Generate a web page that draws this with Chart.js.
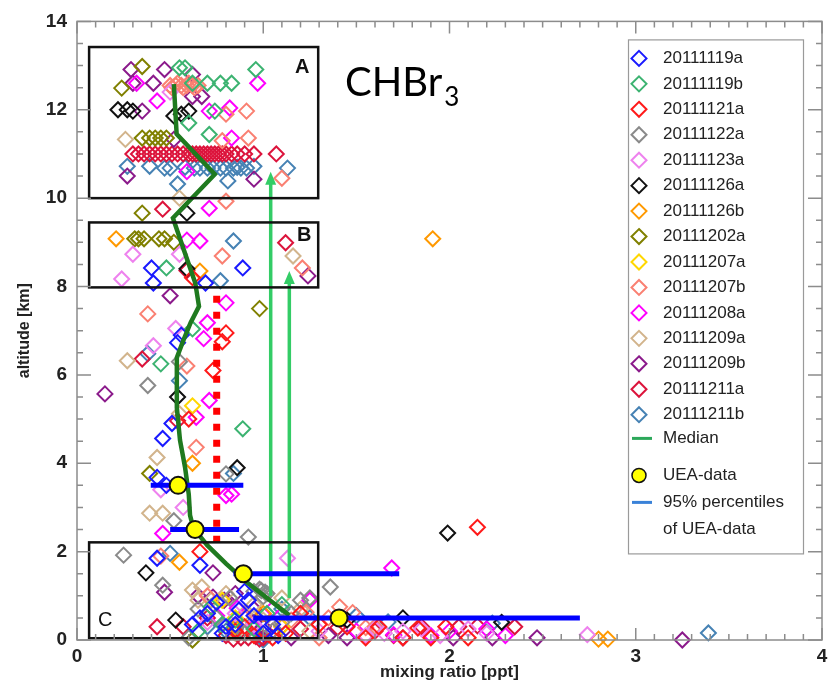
<!DOCTYPE html>
<html lang="en">

<head>
	<meta charset="UTF-8">
	<title>CHBr3 - perfiles</title>
	<script type="text/javascript" src="https://cdn.jsdelivr.net/npm/chart.js"></script>
	<style>
		* {
			margin: 0;
			padding: 0;
			box-sizing: border-box;
		}

		body {
			background: #fff;
		}

		#contenedor {
			width: 837px;
			height: 693px;
		}
	</style>
</head>

<body>
	<div id="contenedor">
		<canvas id="perfil"></canvas>
	</div>

	<script type="text/javascript">
		// vuelos: [mixing ratio (ppt), altitud (km)]
		const v20111119a = [[0.40, 8.42], [0.89, 8.42], [0.41, 8.08], [0.69, 8.08], [0.54, 6.73], [0.56, 6.9], [0.46, 4.56], [0.51, 4.9], [0.43, 3.68], [0.48, 3.5], [0.66, 1.69], [0.43, 1.85], [0.66, 0.5], [0.87, 0.68], [0.80, 0.3], [0.95, 0.55], [1.00, 0.15], [0.75, 0.85], [0.90, 1.1], [1.05, 0.35], [0.70, 0.6], [0.85, 0.35], [0.92, 0.9], [0.78, 0.15], [1.08, 0.1], [0.62, 0.35]];
		const v20111119b = [[0.55, 12.95], [0.58, 12.95], [0.96, 12.91], [0.70, 12.6], [0.77, 12.6], [0.83, 12.6], [0.62, 12.6], [0.74, 11.97], [0.71, 11.44], [0.60, 11.7], [0.48, 8.42], [0.62, 7.04], [0.45, 6.25], [0.89, 4.78], [0.72, 0.75], [0.85, 0.45], [0.65, 0.2], [1.02, 0.6], [0.78, 0.35], [0.95, 0.25], [1.10, 0.8]];
		const v20111121a = [[0.78, 6.75], [0.73, 6.1], [0.80, 6.95], [0.62, 8.2], [0.66, 2.0], [0.60, 5.0], [2.15, 2.55], [1.83, 0.27], [1.98, 0.3], [1.20, 0.6], [1.30, 0.35], [0.95, 0.1], [1.05, 0.05], [1.55, 0.05], [1.75, 0.05], [0.85, 0.2], [1.45, 0.3], [0.90, 0.3], [1.12, 0.15], [1.62, 0.3], [1.90, 0.05], [2.10, 0.05]];
		const v20111122a = [[0.38, 5.76], [0.55, 6.3], [0.80, 3.76], [0.52, 2.7], [0.25, 1.92], [0.92, 2.33], [0.46, 1.24], [0.98, 1.15], [1.02, 1.05], [1.00, 0.98], [0.95, 1.1], [0.99, 1.12], [1.01, 1.08], [1.36, 1.2], [1.20, 0.9], [0.65, 0.7], [0.90, 0.15], [1.10, 0.4], [0.60, 0.05], [0.75, 0.5], [1.15, 0.6], [1.25, 0.95], [0.82, 0.95], [1.05, 0.2]];
		const v20111123a = [[0.50, 12.4], [0.30, 8.73], [0.55, 8.73], [0.24, 8.17], [0.53, 7.05], [0.41, 6.66], [0.45, 3.4], [0.57, 3.0], [1.13, 1.85], [0.85, 0.6], [1.55, 0.1], [1.75, 0.2], [1.85, 0.25], [1.95, 0.1], [2.74, 0.12], [1.30, 0.2], [0.70, 0.4], [0.95, 0.35], [1.60, 0.25], [1.65, 0.15], [2.10, 0.25], [2.20, 0.15]];
		const v20111126a = [[0.22, 12.0], [0.27, 12.0], [0.30, 11.97], [0.52, 11.86], [0.56, 11.9], [0.60, 11.97], [0.59, 9.66], [0.59, 8.4], [0.54, 5.5], [0.86, 3.9], [0.37, 1.52], [0.53, 0.45], [1.99, 2.42], [1.75, 0.5], [2.28, 0.4], [1.45, 0.45]];
		const v20111126b = [[0.21, 9.08], [1.91, 9.08], [0.66, 8.35], [0.62, 4.0], [0.55, 1.76], [0.85, 0.3], [2.80, 0.02], [2.85, 0.02], [1.00, 0.6]];
		const v20111202a = [[0.35, 12.98], [0.24, 12.49], [0.35, 11.36], [0.39, 11.36], [0.42, 11.36], [0.45, 11.36], [0.48, 11.36], [0.35, 9.66], [0.31, 9.08], [0.33, 9.08], [0.36, 9.08], [0.44, 9.08], [0.47, 9.08], [0.52, 9.0], [0.98, 7.5], [0.39, 3.77], [0.62, 0.0]];
		const v20111207a = [[0.62, 5.3], [0.78, 0.9], [0.85, 0.5], [1.10, 0.3]];
		const v20111207b = [[0.50, 12.55], [0.51, 12.5], [0.53, 12.55], [0.54, 12.6], [0.56, 12.55], [0.57, 12.5], [0.59, 12.55], [0.60, 12.6], [0.62, 12.55], [0.63, 12.5], [0.65, 12.55], [0.80, 11.9], [0.91, 11.97], [0.78, 11.3], [0.92, 11.36], [1.10, 10.45], [0.80, 9.93], [0.78, 8.69], [1.21, 8.42], [0.38, 7.38], [0.59, 6.2], [0.64, 4.36], [0.45, 1.9], [1.41, 0.75], [1.23, 0.63], [1.05, 0.2], [1.60, 0.3], [0.70, 1.0], [0.90, 0.5], [1.15, 0.45], [1.30, 0.05], [1.55, 0.28], [1.35, 0.5], [1.48, 0.62]];
		const v20111208a = [[0.32, 12.6], [0.97, 12.6], [0.43, 12.2], [0.82, 12.04], [0.71, 11.97], [0.83, 11.36], [0.59, 10.6], [0.71, 9.77], [0.59, 9.05], [0.66, 9.03], [0.80, 7.63], [0.70, 7.18], [0.68, 6.82], [0.71, 5.42], [0.64, 5.04], [0.80, 3.27], [0.83, 3.3], [0.46, 2.41], [0.86, 0.72], [1.69, 1.63], [1.70, 0.12], [2.00, 0.2], [2.30, 0.1], [1.25, 0.9], [0.75, 0.55], [0.95, 0.3], [1.05, 0.7], [1.50, 0.2], [1.90, 0.1], [2.20, 0.25]];
		const v20111209a = [[0.26, 11.33], [0.55, 10.0], [1.16, 8.69], [0.27, 6.32], [0.55, 5.12], [0.43, 4.13], [0.39, 2.87], [0.46, 2.87], [0.62, 1.13], [0.67, 1.2], [0.72, 0.9], [0.95, 0.8], [1.20, 0.7], [0.85, 0.15], [1.00, 0.45], [0.65, 0.9], [0.80, 1.05], [1.10, 0.95], [0.90, 0.6], [1.25, 0.2]];
		const v20111209b = [[0.29, 12.91], [0.47, 12.91], [0.30, 12.6], [0.41, 12.6], [0.62, 12.8], [0.62, 12.3], [0.67, 12.3], [0.35, 11.97], [0.52, 11.33], [0.27, 10.5], [0.95, 10.43], [0.50, 7.79], [1.24, 8.24], [0.15, 5.57], [0.47, 1.08], [0.73, 1.52], [0.73, 0.97], [0.79, 0.9], [1.15, 0.05], [1.45, 0.05], [2.02, 0.05], [2.23, 0.05], [2.47, 0.05], [3.25, 0.0], [0.65, 1.0], [0.85, 1.05], [0.95, 0.7], [1.00, 0.3], [1.35, 0.1], [1.75, 0.05]];
		const v20111211a = [[0.30, 11.0], [0.33, 11.0], [0.36, 11.0], [0.39, 11.0], [0.42, 11.0], [0.45, 11.0], [0.48, 11.0], [0.51, 11.0], [0.54, 11.0], [0.57, 11.0], [0.60, 11.0], [0.62, 11.0], [0.64, 11.0], [0.66, 11.0], [0.68, 11.0], [0.70, 11.0], [0.72, 11.0], [0.74, 11.0], [0.76, 11.0], [0.78, 11.0], [0.80, 11.0], [0.83, 11.0], [0.86, 11.0], [0.90, 11.0], [0.95, 11.0], [1.07, 11.0], [0.46, 9.75], [1.12, 8.99], [0.59, 8.36], [0.35, 6.36], [0.54, 4.96], [0.43, 0.3], [0.57, 0.3], [0.88, 0.05], [0.92, 0.05], [0.96, 0.08], [1.00, 0.05], [1.85, 0.3], [2.15, 0.32], [2.35, 0.3], [1.70, 0.1], [0.70, 0.5], [0.80, 0.1], [0.84, 0.02], [0.90, 0.15], [0.98, 0.02], [1.03, 0.12], [1.10, 0.3], [1.20, 0.25], [1.40, 0.28], [1.60, 0.2], [2.05, 0.3]];
		const v20111211b = [[0.27, 10.72], [0.39, 10.72], [0.47, 10.68], [0.50, 10.68], [0.54, 10.32], [0.58, 10.7], [0.63, 10.68], [0.66, 10.68], [0.70, 10.68], [0.73, 10.68], [0.77, 10.68], [0.80, 10.68], [0.84, 10.68], [0.86, 10.7], [0.88, 10.68], [0.91, 10.68], [0.95, 10.72], [0.81, 10.39], [1.13, 10.68], [0.84, 9.03], [0.77, 8.13], [0.38, 6.48], [0.55, 5.87], [0.84, 3.77], [0.50, 1.96], [0.80, 0.2], [1.67, 0.41], [2.23, 0.38], [3.39, 0.16], [1.10, 0.7], [0.70, 0.3], [0.85, 0.25], [0.95, 0.4], [1.25, 0.5], [1.50, 0.55], [1.00, 0.0]];

		const vuelos = ['20111119a', '20111119b', '20111121a', '20111122a', '20111123a', '20111126a', '20111126b', '20111202a', '20111207a', '20111207b', '20111208a', '20111209a', '20111209b', '20111211a', '20111211b'];
		const datosVuelos = [v20111119a, v20111119b, v20111121a, v20111122a, v20111123a, v20111126a, v20111126b, v20111202a, v20111207a, v20111207b, v20111208a, v20111209a, v20111209b, v20111211a, v20111211b];
		const coloresVuelos = ['#1a1aff', '#3cb371', '#ff1a1a', '#8a8a8a', '#ee82ee', '#111111', '#ff9900', '#808000', '#ffd700', '#fa8072', '#ff00ff', '#d2b48c', '#8b1a8b', '#dc143c', '#4682b4'];

		// mediana de todos los vuelos
		const medianaX = [0.52, 0.535, 0.74, 0.515, 0.59, 0.635, 0.655, 0.61, 0.57, 0.536, 0.536, 0.553, 0.58, 0.60, 0.607, 0.625, 0.70, 0.80, 0.91, 1.02, 1.14];
		const medianaY = [12.58, 11.45, 10.54, 9.55, 8.63, 8.08, 7.55, 7.18, 6.77, 6.39, 5.26, 4.52, 3.91, 3.3, 2.82, 2.53, 2.14, 1.73, 1.31, 0.95, 0.56];

		// datos UEA y percentiles del 95 %
		const ueaAltitud = [3.5, 2.5, 1.5, 0.5];
		const ueaValor = [0.543, 0.634, 0.893, 1.407];
		const ueaMin = [0.396, 0.50, 0.84, 0.946];
		const ueaMax = [0.893, 0.87, 1.73, 2.70];

		// línea roja punteada
		const limiteX = 0.75;
		const limiteDesde = 2.2;
		const limiteHasta = 7.9;

		// flechas verdes
		const flechaX = [1.04, 1.14];
		const flechaDesde = [1.0, 0.95];
		const flechaHasta = [10.6, 8.35];

		// cajas A, B y C
		const cajas = [
			{ etiqueta: 'A', x0: 0.065, x1: 1.295, y0: 10.0, y1: 13.42 },
			{ etiqueta: 'B', x0: 0.065, x1: 1.295, y0: 7.98, y1: 9.45 },
			{ etiqueta: 'C', x0: 0.065, x1: 1.295, y0: 0.04, y1: 2.21 }
		];

		const fuenteEjes = "'Liberation Sans', Arial, sans-serif";

		const datasets = [];

		datosVuelos.forEach((puntos, i) => {
			datasets.push({
				label: vuelos[i],
				data: puntos.map(p => ({ x: p[0], y: p[1] })),
				pointStyle: 'rectRot',
				pointRadius: 7.5,
				pointHoverRadius: 7.5,
				pointBorderWidth: 2,
				pointBorderColor: coloresVuelos[i],
				pointBackgroundColor: 'rgba(0,0,0,0)',
				showLine: false,
				clip: false,
				order: 10
			});
		});

		datasets.push({
			label: 'limite',
			data: [{ x: limiteX, y: limiteDesde }, { x: limiteX, y: limiteHasta }],
			showLine: true,
			borderColor: '#ff0000',
			borderWidth: 7,
			borderDash: [7, 9],
			pointRadius: 0,
			order: 6
		});

		flechaX.forEach((fx, i) => {
			datasets.push({
				label: 'flecha',
				flecha: true,
				data: [{ x: fx, y: flechaDesde[i] }, { x: fx, y: flechaHasta[i] - 0.2 }],
				showLine: true,
				borderColor: '#33cc66',
				borderWidth: 3.5,
				pointRadius: 0,
				order: 5,
				puntaY: flechaHasta[i]
			});
		});

		datasets.push({
			label: 'Median',
			data: medianaX.map((v, i) => ({ x: v, y: medianaY[i] })),
			showLine: true,
			borderColor: '#1f7a1f',
			borderWidth: 4.5,
			pointRadius: 0,
			tension: 0,
			order: 3
		});

		ueaAltitud.forEach((alt, i) => {
			datasets.push({
				label: '95% percentiles',
				data: [{ x: ueaMin[i], y: alt }, { x: ueaMax[i], y: alt }],
				showLine: true,
				borderColor: '#0000ff',
				borderWidth: 5,
				pointRadius: 0,
				order: 2
			});
		});

		datasets.push({
			label: 'UEA-data',
			data: ueaValor.map((v, i) => ({ x: v, y: ueaAltitud[i] })),
			pointStyle: 'circle',
			pointRadius: 8.5,
			pointHoverRadius: 8.5,
			pointBackgroundColor: '#ffff00',
			pointBorderColor: '#111',
			pointBorderWidth: 2,
			clip: false,
			order: 1
		});

		// dibuja un rombo hueco
		function rombo(ctx, x, y, r, color) {
			ctx.beginPath();
			ctx.moveTo(x, y - r);
			ctx.lineTo(x + r, y);
			ctx.lineTo(x, y + r);
			ctx.lineTo(x - r, y);
			ctx.closePath();
			ctx.strokeStyle = color;
			ctx.lineWidth = 2;
			ctx.stroke();
		}

		// marco, marcas, cajas, flechas, textos y leyenda
		const adornos = {
			id: 'adornos',
			afterDatasetsDraw(chart) {
				const ctx = chart.ctx;
				const ca = chart.chartArea;
				const sx = chart.scales.x;
				const sy = chart.scales.y;
				ctx.save();

				// puntas de flecha
				chart.data.datasets.forEach(ds => {
					if (!ds.flecha) return;
					const px = sx.getPixelForValue(ds.data[0].x);
					const py = sy.getPixelForValue(ds.puntaY);
					ctx.fillStyle = ds.borderColor;
					ctx.beginPath();
					ctx.moveTo(px, py);
					ctx.lineTo(px + 5.5, py + 13);
					ctx.lineTo(px - 5.5, py + 13);
					ctx.closePath();
					ctx.fill();
				});

				// cajas
				ctx.strokeStyle = '#111';
				ctx.lineWidth = 2.5;
				const posEtiqueta = { A: [-16, 20, 'bold'], B: [-14, 13, 'bold'], C: [16, -18, 'normal'] };
				cajas.forEach(c => {
					const x0 = sx.getPixelForValue(c.x0);
					const x1 = sx.getPixelForValue(c.x1);
					const y0 = sy.getPixelForValue(c.y1);
					const y1 = sy.getPixelForValue(c.y0);
					ctx.strokeRect(x0, y0, x1 - x0, y1 - y0);
					const p = posEtiqueta[c.etiqueta];
					ctx.fillStyle = '#111';
					ctx.font = p[2] + ' 20px ' + fuenteEjes;
					ctx.textAlign = 'center';
					ctx.textBaseline = 'middle';
					const lx = p[0] < 0 ? x1 + p[0] : x0 + p[0];
					const ly = p[1] > 0 ? y0 + p[1] : y1 + p[1];
					ctx.fillText(c.etiqueta, lx, ly);
				});

				// marco del gráfico
				ctx.strokeStyle = '#8c8c8c';
				ctx.lineWidth = 1.5;
				ctx.strokeRect(ca.left, ca.top, ca.right - ca.left, ca.bottom - ca.top);

				// marcas hacia dentro en los cuatro lados
				ctx.beginPath();
				for (let i = 0; i <= 40; i++) {
					const px = sx.getPixelForValue(i / 10);
					const l = i % 10 === 0 ? 12 : 6;
					ctx.moveTo(px, ca.bottom);
					ctx.lineTo(px, ca.bottom - l);
					ctx.moveTo(px, ca.top);
					ctx.lineTo(px, ca.top + l);
				}
				for (let i = 0; i <= 28; i++) {
					const py = sy.getPixelForValue(i / 2);
					const l = i % 4 === 0 ? 14 : 6;
					ctx.moveTo(ca.left, py);
					ctx.lineTo(ca.left + l, py);
					ctx.moveTo(ca.right, py);
					ctx.lineTo(ca.right - l, py);
				}
				ctx.stroke();

				// títulos de los ejes
				ctx.fillStyle = '#222';
				ctx.font = 'bold 17px ' + fuenteEjes;
				ctx.textAlign = 'center';
				ctx.textBaseline = 'middle';
				ctx.fillText('mixing ratio [ppt]', (ca.left + ca.right) / 2, ca.bottom + 32);
				ctx.save();
				ctx.translate(ca.left - 52, (ca.top + ca.bottom) / 2);
				ctx.rotate(-Math.PI / 2);
				ctx.font = 'bold 16px ' + fuenteEjes;
				ctx.fillText('altitude [km]', 0, 0);
				ctx.restore();

				// compuesto
				ctx.fillStyle = '#000';
				ctx.textAlign = 'left';
				ctx.textBaseline = 'alphabetic';
				ctx.font = "40px Lato, 'Open Sans', sans-serif";
				const tx = ca.left + 268;
				const ty = ca.top + 75;
				ctx.fillText('CHBr', tx, ty);
				const w = ctx.measureText('CHBr').width;
				ctx.font = "26px Lato, 'Open Sans', sans-serif";
				ctx.fillText('3', tx + w + 2, ty + 10);

				// leyenda
				const lx = ca.right - 194;
				const ly = ca.top + 18;
				ctx.fillStyle = '#fff';
				ctx.fillRect(lx, ly, 175, 514);
				ctx.strokeStyle = '#9a9a9a';
				ctx.lineWidth = 1.2;
				ctx.strokeRect(lx + 0.5, ly + 0.5, 175, 514);
				ctx.font = '17px ' + fuenteEjes;
				ctx.textBaseline = 'middle';
				ctx.textAlign = 'left';
				ctx.fillStyle = '#222';
				vuelos.forEach((nombre, i) => {
					const yy = ly + 19 + i * 25.45;
					rombo(ctx, lx + 11, yy, 7.5, coloresVuelos[i]);
					ctx.fillStyle = '#222';
					ctx.fillText(nombre, lx + 35, yy);
				});
				let yy = ly + 399;
				ctx.strokeStyle = '#2ca85a';
				ctx.lineWidth = 3;
				ctx.beginPath();
				ctx.moveTo(lx + 4, yy);
				ctx.lineTo(lx + 24, yy);
				ctx.stroke();
				ctx.fillText('Median', lx + 35, yy);
				yy = ly + 436;
				ctx.beginPath();
				ctx.arc(lx + 11, yy, 7, 0, Math.PI * 2);
				ctx.fillStyle = '#ffff00';
				ctx.fill();
				ctx.strokeStyle = '#111';
				ctx.lineWidth = 1.5;
				ctx.stroke();
				ctx.fillStyle = '#222';
				ctx.fillText('UEA-data', lx + 35, yy);
				yy = ly + 463;
				ctx.strokeStyle = '#3a82d8';
				ctx.lineWidth = 3;
				ctx.beginPath();
				ctx.moveTo(lx + 4, yy);
				ctx.lineTo(lx + 24, yy);
				ctx.stroke();
				ctx.fillText('95% percentiles', lx + 35, yy);
				ctx.fillText('of UEA-data', lx + 35, yy + 27);

				ctx.restore();
			}
		};

		new Chart(document.querySelector('#perfil'), {
			type: 'scatter',
			data: { datasets: datasets },
			options: {
				responsive: true,
				maintainAspectRatio: false,
				animation: false,
				layout: {
					padding: { top: 20, right: 15, left: 0, bottom: 0 }
				},
				plugins: {
					legend: { display: false },
					tooltip: { enabled: false }
				},
				scales: {
					x: {
						type: 'linear',
						min: 0,
						max: 4,
						afterFit: s => { s.height = 53; },
						grid: { display: false, drawTicks: false },
						border: { display: false },
						ticks: {
							stepSize: 1,
							padding: 5,
							color: '#222',
							font: { family: fuenteEjes, size: 19, weight: 'bold' }
						}
					},
					y: {
						min: 0,
						max: 14,
						afterFit: s => { s.width = 77; },
						grid: { display: false, drawTicks: false },
						border: { display: false },
						ticks: {
							stepSize: 2,
							padding: 10,
							color: '#222',
							font: { family: fuenteEjes, size: 19, weight: 'bold' }
						}
					}
				}
			},
			plugins: [adornos]
		});
	</script>
</body>

</html>
